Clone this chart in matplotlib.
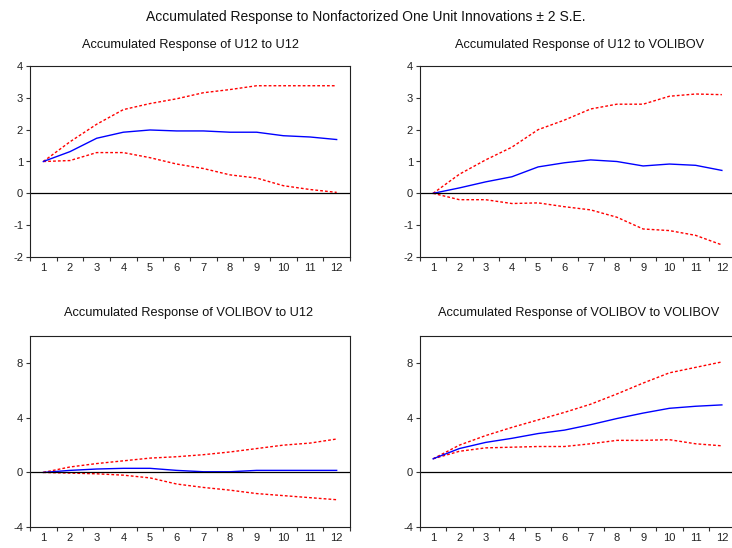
import matplotlib
matplotlib.use("Agg")
import matplotlib.pyplot as plt
import numpy as np

plt.rcParams['font.family'] = ['Liberation Sans', 'DejaVu Sans']

periods = list(range(1, 13))
period_labels = [str(p) for p in periods]

# U12 to U12
u_u_mean = [1.0, 1.31, 1.73, 1.92, 1.99, 1.96, 1.96, 1.92, 1.92, 1.81, 1.77, 1.69]
u_u_up = [1.0, 1.62, 2.17, 2.63, 2.82, 2.97, 3.16, 3.26, 3.38, 3.38, 3.38, 3.38]
u_u_lo = [1.0, 1.03, 1.28, 1.28, 1.12, 0.92, 0.78, 0.58, 0.48, 0.24, 0.12, 0.03]

# U12 to VOLIBOV
u_v_mean = [0.0, 0.17, 0.36, 0.52, 0.83, 0.96, 1.05, 1.0, 0.86, 0.92, 0.88, 0.72]
u_v_up = [0.0, 0.6, 1.05, 1.45, 2.0, 2.3, 2.65, 2.8, 2.8, 3.05, 3.12, 3.1]
u_v_lo = [0.0, -0.2, -0.2, -0.32, -0.3, -0.42, -0.52, -0.75, -1.12, -1.17, -1.32, -1.62]

# VOLIBOV to U12
v_u_mean = [0.0, 0.15, 0.25, 0.3, 0.3, 0.15, 0.05, 0.05, 0.15, 0.15, 0.15, 0.15]
v_u_up = [0.0, 0.4, 0.65, 0.85, 1.05, 1.15, 1.3, 1.5, 1.75, 2.0, 2.15, 2.45]
v_u_lo = [0.0, -0.05, -0.1, -0.2, -0.4, -0.85, -1.1, -1.3, -1.55, -1.7, -1.85, -2.0]

# VOLIBOV to VOLIBOV
v_v_mean = [1.0, 1.75, 2.2, 2.5, 2.85, 3.1, 3.5, 3.95, 4.35, 4.7, 4.85, 4.95]
v_v_up = [1.0, 2.0, 2.7, 3.3, 3.85, 4.4, 5.0, 5.75, 6.55, 7.3, 7.7, 8.1]
v_v_lo = [1.0, 1.55, 1.8, 1.85, 1.9, 1.9, 2.1, 2.35, 2.35, 2.4, 2.1, 1.95]

panels = [
    ("Accumulated Response of U12 to U12", u_u_mean, u_u_up, u_u_lo, (-2, 4), [-2, -1, 0, 1, 2, 3, 4]),
    ("Accumulated Response of U12 to VOLIBOV", u_v_mean, u_v_up, u_v_lo, (-2, 4), [-2, -1, 0, 1, 2, 3, 4]),
    ("Accumulated Response of VOLIBOV to U12", v_u_mean, v_u_up, v_u_lo, (-4, 10), [-4, 0, 4, 8]),
    ("Accumulated Response of VOLIBOV to VOLIBOV", v_v_mean, v_v_up, v_v_lo, (-4, 10), [-4, 0, 4, 8]),
]

W, H = 732, 548
fig = plt.figure(figsize=(W / 100, H / 100), dpi=100)
fig.patch.set_facecolor('white')

# pixel boxes: left, right, top, bottom
boxes = [(30, 350, 66, 257), (420, 735, 66, 257), (30, 350, 336, 527), (420, 735, 336, 527)]
title_pos = [(191, 45), (580, 45), (189, 313), (579, 313)]

for (title, mean, up, lo, ylim, yticks), (l, r, t, b), (tx, ty) in zip(panels, boxes, title_pos):
    ax = fig.add_axes([l / W, 1 - b / H, (r - l) / W, (b - t) / H])
    ax.plot(periods, up, color='red', linestyle=(0, (2, 1.5)), linewidth=1.0)
    ax.plot(periods, lo, color='red', linestyle=(0, (2, 1.5)), linewidth=1.0)
    ax.plot(periods, mean, color='blue', linewidth=1.0)
    ax.axhline(0, color='black', linewidth=0.9)
    ax.set_xlim(0.5, 12.5)
    ax.set_ylim(*ylim)
    ax.set_yticks(yticks)
    ax.set_yticklabels([str(v) for v in yticks])
    ax.set_xticks(np.arange(0.5, 13, 1.0))
    ax.set_xticklabels([])
    ax.set_xticks(periods, minor=True)
    ax.set_xticklabels(period_labels, minor=True)
    ax.tick_params(axis='x', which='major', length=3, width=0.8, direction='out', color='#333333')
    ax.tick_params(axis='x', which='minor', length=0, labelsize=8, pad=4, labelcolor='#222222')
    ax.tick_params(axis='y', length=3, width=0.8, direction='out', labelsize=8, pad=2,
                   labelcolor='#222222', color='#333333')
    for s in ax.spines.values():
        s.set_linewidth(0.8)
        s.set_color('#222222')
    fig.text(tx / W, 1 - ty / H, title, ha='center', va='center', fontsize=9.2, color='#111111')

fig.text(0.5, 1 - 17 / H, "Accumulated Response to Nonfactorized One Unit Innovations \u00b1 2 S.E.",
         ha='center', va='center', fontsize=10, color='#111111')

fig.savefig("out.png", dpi=100, facecolor='white')
